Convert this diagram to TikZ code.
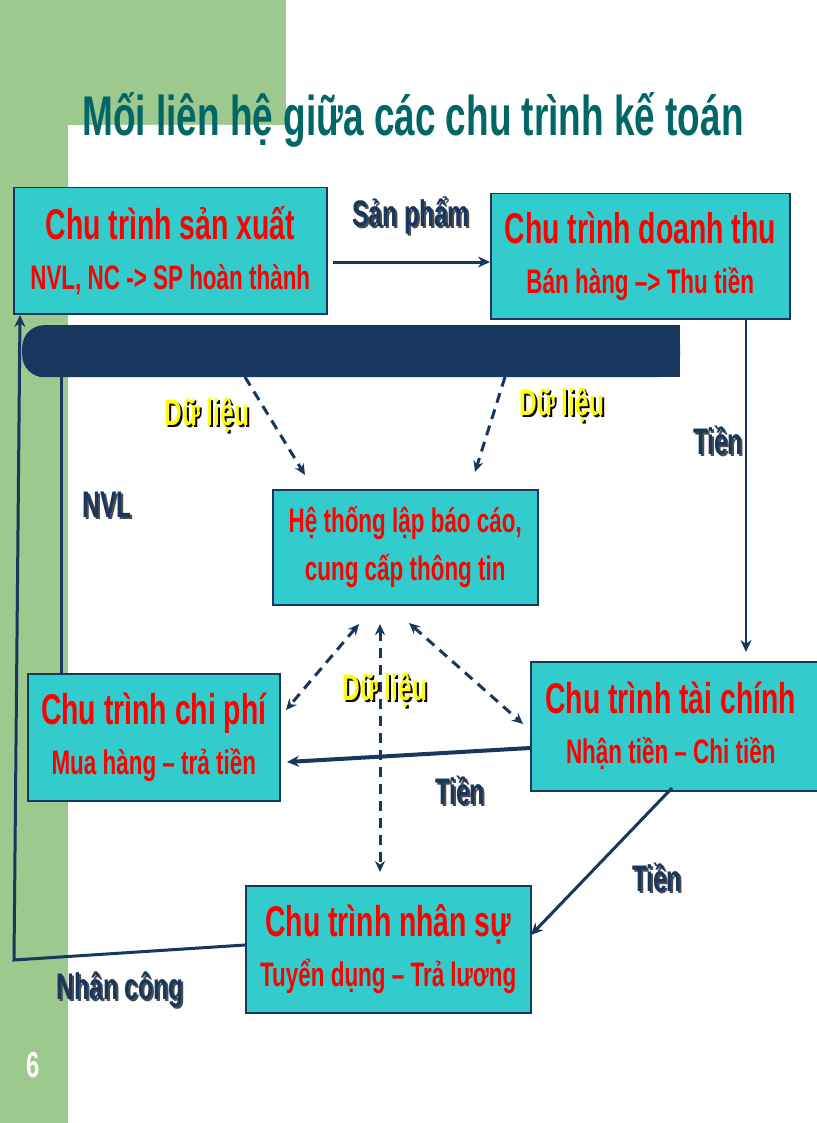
\documentclass[tikz,border=0pt]{standalone}
\usepackage{fontspec}
\setmainfont{Liberation Sans}
\newfontfamily\nar[FakeStretch=0.66]{Liberation Sans}
\usetikzlibrary{arrows.meta}
\definecolor{bgreen}{HTML}{9CC98E}
\definecolor{navy}{HTML}{17375E}
\definecolor{cyanbox}{HTML}{33CCCC}
\definecolor{ttl}{HTML}{006666}
\definecolor{yel}{HTML}{FFFF00}
\tikzset{
  cbox/.style={draw=navy,line width=1.5pt,fill=cyanbox,anchor=north west,inner sep=0pt},
  btxt/.style={text=red,font=\nar\bfseries\fontsize{34}{40}\selectfont,align=center},
  flow/.style={draw=navy,line width=3pt,-{Stealth[length=12pt,width=11pt]}},
  dflow/.style={draw=navy,line width=3pt,dashed,dash pattern=on 10pt off 7pt,{Stealth[length=11pt,width=10pt]}-{Stealth[length=11pt,width=10pt]}},
  lbl/.style={font=\nar\bfseries\fontsize{37}{40}\selectfont,text=navy},
  sh/.style={font=\nar\bfseries\fontsize{37}{40}\selectfont,text=black!70},
}
\newcommand\boxtxt[2]{{\fontsize{43}{46}\selectfont #1}\\[10pt]{\fontsize{34}{40}\selectfont #2}}
\begin{document}
\begin{tikzpicture}[x=1pt,y=-1pt]
\useasboundingbox (0,0) rectangle (816,1123);
\fill[white] (0,0) rectangle (816,1123);
\fill[bgreen] (0,0) rectangle (68,1123);
\fill[bgreen] (0,0) rectangle (286,125);
\fill[white,rounded corners=25pt] (68,125) rectangle (300,300);
\fill[white] (100,125) rectangle (300,300);
\fill[white] (68,160) rectangle (300,300);
\node (title) at (413,120) {\nar\bfseries\fontsize{56}{62}\selectfont\color{ttl}Mối liên hệ giữa các chu trình kế toán};
\node (pg) at (33,1065) {\nar\bfseries\fontsize{36}{40}\selectfont\color{white}6};
% bar
\node[fill=navy,rounded corners=22pt,minimum width=658pt,minimum height=52pt,anchor=north west,inner sep=0pt] (bar) at (22,325) {};
\fill[navy] (650,325) rectangle (680,377);
% boxes
\node[cbox,minimum width=313pt,minimum height=126pt] (sx) at (13,187) {};
\node[btxt] (sxt) at (sx.center) {\boxtxt{Chu trình sản xuất}{NVL, NC -> SP hoàn thành}};
\node[cbox,minimum width=299pt,minimum height=125pt] (dt) at (490,193) {};
\node[btxt] (dtt) at (dt.center) {\boxtxt{Chu trình doanh thu}{Bán hàng –> Thu tiền}};
\node[cbox,minimum width=265pt,minimum height=115pt] (ht) at (272,489) {};
\node[btxt,font=\nar\bfseries\fontsize{34}{48}\selectfont] (htt) at (ht.center) {Hệ thống lập báo cáo,\\cung cấp thông tin};
\node[cbox,minimum width=252pt,minimum height=127pt] (cp) at (27,673) {};
\node[btxt] (cpt) at (cp.center) {\boxtxt{Chu trình chi phí}{Mua hàng – trả tiền}};
\node[cbox,minimum width=290pt,minimum height=129pt] (tc) at (530,661) {};
\node[btxt] (tct) at ([xshift=-5pt]tc.center) {\boxtxt{Chu trình tài chính}{Nhận tiền – Chi tiền}};
\node[cbox,minimum width=285pt,minimum height=127pt] (ns) at (245,885) {};
\node[btxt] (nst) at (ns.center) {\boxtxt{Chu trình nhân sự}{Tuyển dụng – Trả lương}};
% coordinates
\coordinate (spA) at (333,262); \coordinate (spB) at (490,262);
\coordinate (tA) at (746,320); \coordinate (tB) at (746,652);
\coordinate (cA) at (530,748); \coordinate (cB) at (287,762);
\coordinate (nA) at (672,788); \coordinate (nB) at (531,935);
\coordinate (oA) at (245,945); \coordinate (oB) at (14,960); \coordinate (oC) at (20,315);
\coordinate (iA) at (61,673); \coordinate (iB) at (61,377);
\coordinate (d1a) at (245,377); \coordinate (d1b) at (305,475);
\coordinate (d2a) at (505,377); \coordinate (d2b) at (475,472);
\coordinate (d3a) at (359,624); \coordinate (d3b) at (286,710);
\coordinate (d4a) at (380,624); \coordinate (d4b) at (380,872);
\coordinate (d5a) at (409,623); \coordinate (d5b) at (523,724);
% arrows
\draw[flow] (spA) -- (spB);
\draw[flow,line width=2pt] (tA) -- (tB);
\draw[flow,line width=4pt] (cA) -- (cB);
\draw[flow] (nA) -- (nB);
\draw[flow] (oA) -- (oB) -- (oC);
\draw[navy,line width=3pt] (iA) -- (iB);
\draw[dflow,-{Stealth[length=11pt,width=10pt]}] (d1a) -- (d1b);
\draw[dflow,-{Stealth[length=11pt,width=10pt]}] (d2a) -- (d2b);
\draw[dflow] (d3a) -- (d3b);
\draw[dflow] (d4a) -- (d4b);
\draw[dflow] (d5a) -- (d5b);
% labels
\foreach \n/\x/\y/\t in {l1/207/415/Dữ liệu, l2/562/405/Dữ liệu, l3/385/690/Dữ liệu}{
  \node[sh,text=black] (\n s) at (\x+2,\y+2) {\t};
  \node[lbl,text=yel] (\n) at (\x,\y) {\t};
}
\foreach \n/\x/\y/\t in {m1/411/215/Sản phẩm, m2/718/440/Tiền, m3/460/790/Tiền, m4/657/877/Tiền, m5/107/505/NVL, m6/120/990/Nhân công}{
  \node[sh] (\n s) at (\x+2,\y+2) {\t};
  \node[lbl] (\n) at (\x,\y) {\t};
}
\end{tikzpicture}
\end{document}
